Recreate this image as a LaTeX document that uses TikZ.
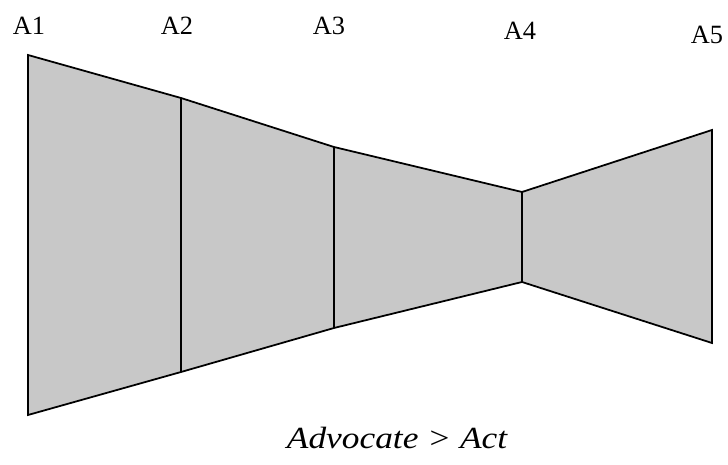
\documentclass[tikz,border=0pt]{standalone}
\usepackage{fontspec}
\setmainfont{Liberation Serif}
\usepackage{tikz}
\usetikzlibrary{calc,positioning}
\definecolor{panelgray}{RGB}{200,200,200}

\begin{document}
\begin{tikzpicture}[x=0.02cm, y=-0.02cm, line width=1pt,
                    label/.style={inner sep=0pt, font=\fontsize{15}{17}\selectfont},
                    panel/.style={fill=panelgray, draw=black, line join=miter}]
    \useasboundingbox (0,0) rectangle (728,465);
    % top and bottom corners of the stages
    \coordinate (t1) at (28,55);
    \coordinate (t2) at (181,98);
    \coordinate (t3) at (334,147);
    \coordinate (t4) at (522,192);
    \coordinate (t5) at (712,130);
    \coordinate (b1) at (28,415);
    \coordinate (b2) at (181,372);
    \coordinate (b3) at (334,328);
    \coordinate (b4) at (522,282);
    \coordinate (b5) at (712,343);
    \draw[panel] (t1) -- (t2) -- (t3) -- (t4) -- (t5) -- (b5)
                 -- (b4) -- (b3) -- (b2) -- (b1) -- cycle;
    \draw (t2) -- (b2);
    \draw (t3) -- (b3);
    \draw (t4) -- (b4);
    \node[label] (A1) at (29,26)  {A1};
    \node[label] (A2) at (177,26) {A2};
    \node[label] (A3) at (329,26) {A3};
    \node[label] (A4) at (520,31) {A4};
    \node[label] (A5) at (707,35) {A5};
    \node[inner sep=0pt, anchor=base, xscale=1.15,
          font=\fontsize{17.5}{20}\selectfont\itshape] (cap) at (397,449)
          {Advocate > Act};
\end{tikzpicture}
\end{document}
